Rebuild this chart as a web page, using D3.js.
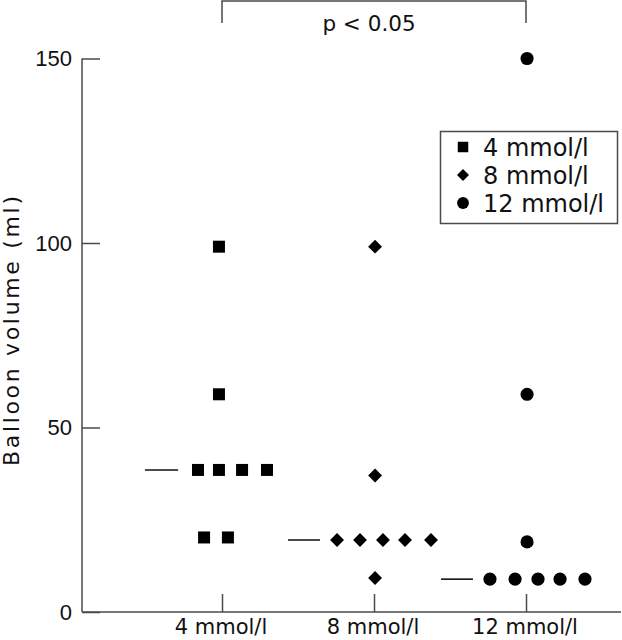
<!DOCTYPE html>
<html>
<head>
<meta charset="utf-8">
<script src="https://cdn.jsdelivr.net/npm/d3@7"></script>
<style>
  html, body { margin: 0; padding: 0; background: #fff; }
  svg { display: block; }
  text { font-family: "DejaVu Sans", Verdana, sans-serif; fill: #111; }
  text.num { font-family: "Liberation Sans", Arial, Helvetica, sans-serif; }
</style>
</head>
<body>
<svg id="chart" width="622" height="640"></svg>
<script>
// ---- data ----
const categories = ["4 mmol/l", "8 mmol/l", "12 mmol/l"];
const yTicks = [0, 50, 100, 150];
const yLabel = "Balloon volume (ml)";
const pLabel = "p < 0.05";

// balloon volumes (ml) for each group, with horizontal jitter (in category units)
const values4  = [99, 59, 38.5, 38.5, 38.5, 38.5, 20.2, 20.2];
const jitter4  = [-0.02, -0.02, -0.158, -0.02, 0.132, 0.296, -0.118, 0.039];
const values8  = [99, 37, 19.5, 19.5, 19.5, 19.5, 19.5, 9.2];
const jitter8  = [0.007, 0.007, -0.243, -0.092, 0.059, 0.204, 0.375, 0.007];
const values12 = [150, 59, 19, 8.9, 8.9, 8.9, 8.9, 8.9];
const jitter12 = [0.007, 0.007, 0.007, -0.237, -0.072, 0.079, 0.224, 0.388];

// medians and their marker line extents (category units)
const medians     = [38.5, 19.5, 8.9];
const medianStart = [-0.507, -0.566, -0.559];
const medianEnd   = [-0.289, -0.355, -0.349];

// ---- layout ----
const svg = d3.select("#chart");
const axisColor = "#4a4a4a";
const x = d3.scaleLinear().domain([1, 3]).range([222, 526]);
const y = d3.scaleLinear().domain([0, 150]).range([612, 58.5]);
const xLeft = 82, xRight = 621;

const groups = [
  {values: values4, jitter: jitter4},
  {values: values8, jitter: jitter8},
  {values: values12, jitter: jitter12}
];

// marker shapes: square, diamond (rotated square), circle
const symbolTypes = [d3.symbolSquare, d3.symbolSquare, d3.symbolCircle];
const symbolRot = [0, 45, 0];
const symbolSizes = [144, 96, 135];
const legendSizes = [110, 72, 110];

// y axis
const yAxis = d3.axisRight(y).tickValues(yTicks).tickSize(18).tickFormat("");
const gy = svg.append("g").attr("transform", `translate(${xLeft},0)`).call(yAxis);
gy.select(".domain").remove();
gy.selectAll(".tick line").attr("stroke", axisColor).attr("stroke-width", 1.5);
svg.append("line")
  .attr("x1", xLeft).attr("x2", xLeft)
  .attr("y1", y(150)).attr("y2", y(0))
  .attr("stroke", axisColor).attr("stroke-width", 1.5);
svg.selectAll(".ytl").data(yTicks).enter().append("text")
  .attr("class", "ytl num")
  .attr("x", xLeft - 10)
  .attr("y", d => y(d))
  .attr("dy", "0.36em")
  .attr("text-anchor", "end")
  .attr("font-size", 22)
  .text(d => d);

// x axis
const xAxis = d3.axisTop(x).tickValues([1, 2, 3]).tickSize(18).tickFormat("");
const gx = svg.append("g").attr("transform", `translate(0,${y(0)})`).call(xAxis);
gx.select(".domain").remove();
gx.selectAll(".tick line").attr("stroke", axisColor).attr("stroke-width", 1.5);
svg.append("line")
  .attr("x1", xLeft).attr("x2", xRight)
  .attr("y1", y(0)).attr("y2", y(0))
  .attr("stroke", axisColor).attr("stroke-width", 1.5);
svg.selectAll(".xtl").data(categories).enter().append("text")
  .attr("class", "xtl")
  .attr("x", (d, i) => x(i + 1) - 1)
  .attr("y", 633.5)
  .attr("text-anchor", "middle")
  .attr("font-size", 21)
  .text(d => d);

// y label
svg.append("text")
  .attr("transform", `translate(18.5,${(195 + 467) / 2}) rotate(-90)`)
  .attr("text-anchor", "middle")
  .attr("font-size", 22)
  .attr("textLength", 270)
  .attr("lengthAdjust", "spacing")
  .text(yLabel);

// significance bracket
const bTop = 1, bBottom = 23;
svg.append("path")
  .attr("d", `M${x(1)},${bBottom}V${bTop}H${x(3)}V${bBottom}`)
  .attr("fill", "none").attr("stroke", axisColor).attr("stroke-width", 1.5);
svg.append("text")
  .attr("x", (x(1) + x(3)) / 2 - 5)
  .attr("y", 31)
  .attr("text-anchor", "middle")
  .attr("font-size", 21.5)
  .text(pLabel);

// medians
svg.selectAll(".median").data(medians).enter().append("line")
  .attr("class", "median")
  .attr("x1", (d, i) => x(i + 1 + medianStart[i]))
  .attr("x2", (d, i) => x(i + 1 + medianEnd[i]))
  .attr("y1", d => y(d)).attr("y2", d => y(d))
  .attr("stroke", "#111").attr("stroke-width", 1.6);

// points
groups.forEach((g, gi) => {
  const sym = d3.symbol().type(symbolTypes[gi]).size(symbolSizes[gi]);
  svg.append("g").selectAll("path").data(g.values).enter().append("path")
    .attr("d", sym)
    .attr("transform", (d, i) => `translate(${x(gi + 1 + g.jitter[i])},${y(d)}) rotate(${symbolRot[gi]})`)
    .attr("fill", "#000");
});

// legend
const legend = svg.append("g");
legend.append("rect")
  .attr("x", 440.5).attr("y", 131.5).attr("width", 177).attr("height", 92)
  .attr("fill", "#fff").attr("stroke", axisColor).attr("stroke-width", 1.5);
const legendY = d3.scalePoint().domain(categories).range([147, 203]);
categories.forEach((c, i) => {
  legend.append("path")
    .attr("d", d3.symbol().type(symbolTypes[i]).size(legendSizes[i]))
    .attr("transform", `translate(463,${legendY(c)}) rotate(${symbolRot[i]})`)
    .attr("fill", "#000");
  legend.append("text")
    .attr("x", 483)
    .attr("y", legendY(c))
    .attr("dy", "0.36em")
    .attr("font-size", 24)
    .text(c);
});
</script>
</body>
</html>
